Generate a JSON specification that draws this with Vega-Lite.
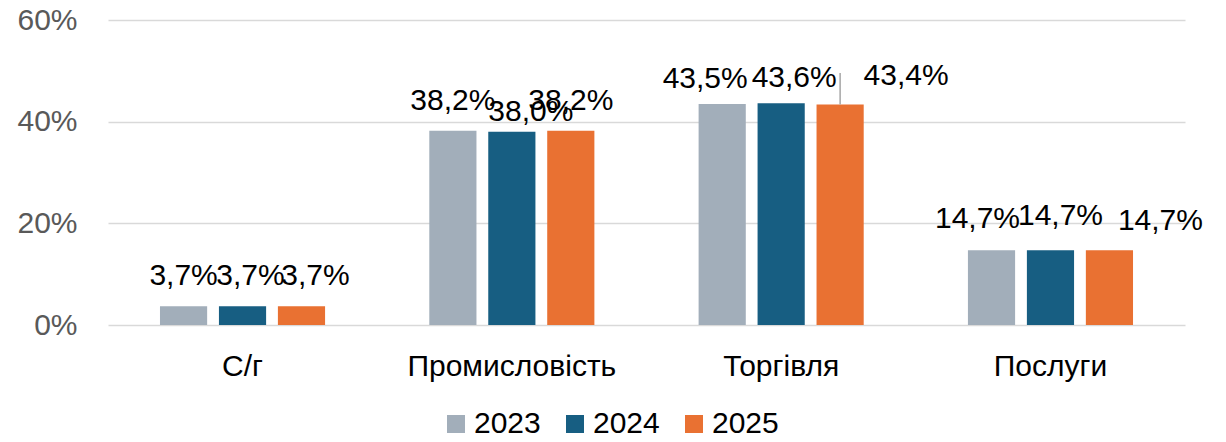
{
  "$schema": "https://vega.github.io/schema/vega-lite/v6.json",
  "width": 1077,
  "height": 305,
  "autosize": {"type": "none"},
  "padding": {"left": 108, "top": 20, "right": 41, "bottom": 117},
  "config": {
    "locale": {"number": {"decimal": ",", "thousands": " ", "grouping": [3], "currency": ["", " ₴"]}},
    "view": {"stroke": null},
    "font": "Liberation Sans",
    "text": {"fontSize": 30, "color": "#000000", "baseline": "middle"}
  },
  "data": {
    "values": [
      {"sector": "С/г", "year": "2023", "value": 0.037},
      {"sector": "С/г", "year": "2024", "value": 0.037},
      {"sector": "С/г", "year": "2025", "value": 0.037},
      {"sector": "Промисловість", "year": "2023", "value": 0.382},
      {"sector": "Промисловість", "year": "2024", "value": 0.380},
      {"sector": "Промисловість", "year": "2025", "value": 0.382},
      {"sector": "Торгівля", "year": "2023", "value": 0.435},
      {"sector": "Торгівля", "year": "2024", "value": 0.436},
      {"sector": "Торгівля", "year": "2025", "value": 0.434},
      {"sector": "Послуги", "year": "2023", "value": 0.147},
      {"sector": "Послуги", "year": "2024", "value": 0.147},
      {"sector": "Послуги", "year": "2025", "value": 0.147}
    ]
  },
  "encoding": {
    "x": {
      "field": "sector", "type": "nominal",
      "sort": ["С/г", "Промисловість", "Торгівля", "Послуги"],
      "scale": {"paddingInner": 0.387, "paddingOuter": 0.193},
      "axis": {"title": null, "labelAngle": 0, "labelFontSize": 30, "labelColor": "#000000", "labelPadding": 26, "labelLimit": 400, "domain": false, "ticks": false, "grid": false}
    },
    "xOffset": {"field": "year", "type": "nominal", "scale": {"paddingInner": 0.2, "paddingOuter": 0}},
    "y": {
      "field": "value", "type": "quantitative",
      "scale": {"domain": [0, 0.6], "nice": false},
      "axis": {"title": null, "values": [0, 0.2, 0.4, 0.6], "format": ".0%", "labelFontSize": 30, "labelColor": "#595959", "labelPadding": 31, "domain": false, "ticks": false, "grid": true, "gridColor": "#D9D9D9", "gridWidth": 1.5}
    }
  },
  "layer": [
    {
      "mark": {"type": "bar"},
      "encoding": {
        "color": {
          "field": "year", "type": "nominal",
          "scale": {"domain": ["2023", "2024", "2025"], "range": ["#A2AEBA", "#175E82", "#E97132"]},
          "legend": {"title": null, "orient": "none", "direction": "horizontal", "legendX": 330, "legendY": 386, "padding": 3, "symbolType": "square", "symbolSize": 324, "symbolStrokeWidth": 0, "labelFontSize": 30, "labelColor": "#000000", "labelOffset": 3, "columnPadding": 19}
        }
      }
    },
    {
      "transform": [{"filter": "datum.sector === 'Торгівля' && datum.year === '2025'"}],
      "mark": {"type": "rule", "color": "#A6A6A6", "strokeWidth": 1.5},
      "encoding": {"y2": {"datum": 0.4957}}
    },
    {
      "transform": [{"filter": "(datum.sector === 'С/г' && datum.year === '2023') || (datum.sector === 'Промисловість' && datum.year !== '2024')"}],
      "mark": {"type": "text", "dy": -30},
      "encoding": {"text": {"field": "value", "type": "quantitative", "format": ".1%"}}
    },
    {
      "transform": [{"filter": "datum.sector === 'С/г' && datum.year === '2024'"}],
      "mark": {"type": "text", "dx": 8, "dy": -30},
      "encoding": {"text": {"field": "value", "type": "quantitative", "format": ".1%"}}
    },
    {
      "transform": [{"filter": "datum.sector === 'С/г' && datum.year === '2025'"}],
      "mark": {"type": "text", "dx": 14, "dy": -30},
      "encoding": {"text": {"field": "value", "type": "quantitative", "format": ".1%"}}
    },
    {
      "transform": [{"filter": "datum.sector === 'Промисловість' && datum.year === '2024'"}],
      "mark": {"type": "text", "dx": 19, "dy": -20},
      "encoding": {"text": {"field": "value", "type": "quantitative", "format": ".1%"}}
    },
    {
      "transform": [{"filter": "datum.sector === 'Торгівля' && datum.year === '2023'"}],
      "mark": {"type": "text", "dx": -17, "dy": -25},
      "encoding": {"text": {"field": "value", "type": "quantitative", "format": ".1%"}}
    },
    {
      "transform": [{"filter": "datum.sector === 'Торгівля' && datum.year === '2024'"}],
      "mark": {"type": "text", "dx": 13, "dy": -25},
      "encoding": {"text": {"field": "value", "type": "quantitative", "format": ".1%"}}
    },
    {
      "transform": [{"filter": "datum.sector === 'Торгівля' && datum.year === '2025'"}],
      "mark": {"type": "text", "dx": 66, "dy": -28},
      "encoding": {"text": {"field": "value", "type": "quantitative", "format": ".1%"}}
    },
    {
      "transform": [{"filter": "datum.sector === 'Послуги' && datum.year === '2023'"}],
      "mark": {"type": "text", "dx": -14, "dy": -31},
      "encoding": {"text": {"field": "value", "type": "quantitative", "format": ".1%"}}
    },
    {
      "transform": [{"filter": "datum.sector === 'Послуги' && datum.year === '2024'"}],
      "mark": {"type": "text", "dx": 10, "dy": -34},
      "encoding": {"text": {"field": "value", "type": "quantitative", "format": ".1%"}}
    },
    {
      "transform": [{"filter": "datum.sector === 'Послуги' && datum.year === '2025'"}],
      "mark": {"type": "text", "dx": 51, "dy": -29},
      "encoding": {"text": {"field": "value", "type": "quantitative", "format": ".1%"}}
    }
  ]
}
